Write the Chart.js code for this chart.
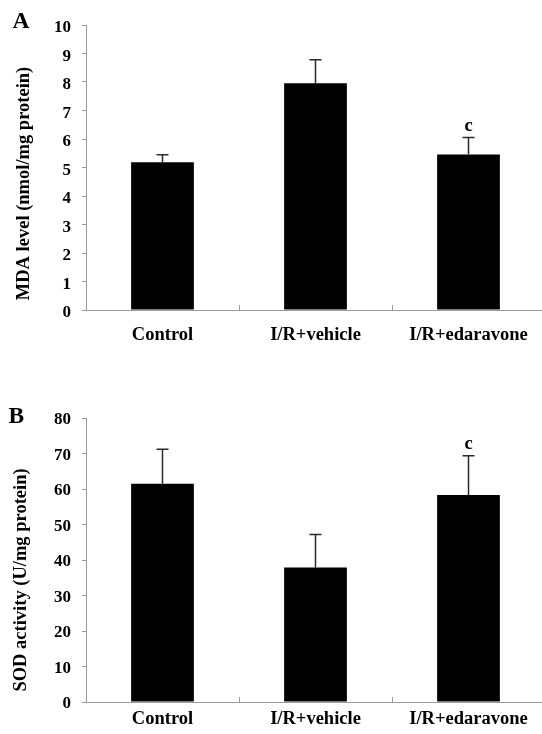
<!DOCTYPE html>
<html>
<head>
<meta charset="utf-8">
<script src="https://cdn.jsdelivr.net/npm/chart.js@4/dist/chart.umd.min.js"></script>
<style>
  html, body { margin: 0; padding: 0; background: #fff; width: 542px; height: 734px; overflow: hidden; }
  canvas { position: absolute; left: 0; }
  #cA { top: 0; }
  #cB { top: 367px; }
</style>
</head>
<body>
<canvas id="cA" width="548" height="355"></canvas>
<canvas id="cB" width="548" height="367"></canvas>
<script>
// ---- data ----
const categories = ['Control', 'I/R+vehicle', 'I/R+edaravone'];
const mdaMean = [5.18, 7.96, 5.46];
const mdaSd   = [0.27, 0.82, 0.59];
const sodMean = [61.5, 37.9, 58.3];
const sodSd   = [9.7, 9.3, 11.1];
const sigMarks = ['', '', 'c'];
const mdaTicks = { min: 0, max: 10, step: 1 };
const sodTicks = { min: 0, max: 80, step: 10 };

const FONT = '"Liberation Serif", "Times New Roman", serif';
const AXIS = '#9a9a9a';

function overlayPlugin(cfg) {
  return {
    id: 'overlay',
    afterDatasetsDraw(chart) {
      const ctx = chart.ctx;
      const xs = chart.scales.x, ys = chart.scales.y;
      const meta = chart.getDatasetMeta(0);
      const ds = chart.data.datasets[0];
      ctx.save();
      // error bars (upper only)
      ctx.strokeStyle = '#2a2a2a';
      ctx.lineWidth = 1.5;
      meta.data.forEach((bar, i) => {
        const v = ds.data[i], sd = cfg.sd[i];
        const x = bar.x;
        const y0 = ys.getPixelForValue(v);
        const y1 = ys.getPixelForValue(v + sd);
        ctx.beginPath();
        ctx.moveTo(x, y0);
        ctx.lineTo(x, y1);
        ctx.moveTo(x - 6, y1);
        ctx.lineTo(x + 6, y1);
        ctx.stroke();
        if (cfg.marks[i]) {
          ctx.fillStyle = '#000';
          ctx.font = 'bold 18.5px ' + FONT;
          ctx.textAlign = 'center';
          ctx.textBaseline = 'alphabetic';
          ctx.fillText(cfg.marks[i], x, y1 - 7);
        }
      });
      // inward category tick marks on the x axis
      ctx.strokeStyle = AXIS;
      ctx.lineWidth = 1;
      const base = chart.chartArea.bottom;
      const step = xs.getPixelForValue(1) - xs.getPixelForValue(0);
      for (let i = 1; i <= categories.length; i++) {
        const xx = xs.getPixelForValue(i - 1) + step / 2;
        ctx.beginPath();
        ctx.moveTo(Math.round(xx) + 0.5, base);
        ctx.lineTo(Math.round(xx) + 0.5, base - 5);
        ctx.stroke();
      }
      // panel letter
      ctx.fillStyle = '#000';
      ctx.font = 'bold 23.5px ' + FONT;
      ctx.textAlign = 'left';
      ctx.textBaseline = 'alphabetic';
      ctx.fillText(cfg.letter, cfg.letterX, cfg.letterY);
      // y-axis title (rotated)
      ctx.translate(cfg.titleX, cfg.titleY);
      ctx.rotate(-Math.PI / 2);
      ctx.font = 'bold 18.5px ' + FONT;
      ctx.textAlign = 'center';
      ctx.fillText(cfg.title, 0, 0);
      ctx.restore();
    }
  };
}

function makeChart(id, mean, sd, ticks, opts) {
  return new Chart(document.getElementById(id), {
    type: 'bar',
    data: {
      labels: categories,
      datasets: [{
        data: mean,
        backgroundColor: '#000',
        borderWidth: 0,
        categoryPercentage: 1.0,
        barPercentage: 0.41
      }]
    },
    options: {
      responsive: false,
      animation: false,
      events: [],
      layout: { padding: { top: opts.padTop, left: 0, right: 3, bottom: 0 } },
      plugins: { legend: { display: false }, tooltip: { enabled: false }, title: { display: false } },
      scales: {
        x: {
          type: 'category',
          offset: true,
          grid: { display: false, drawTicks: false },
          border: { display: true, color: AXIS, width: 1 },
          ticks: {
            color: '#000',
            font: { family: FONT, size: 18.5, weight: 'bold' },
            padding: opts.xPad,
            maxRotation: 0,
            autoSkip: false
          },
          afterFit: (s) => { s.height = opts.xHeight; }
        },
        y: {
          min: ticks.min,
          max: ticks.max,
          grid: { display: true, drawOnChartArea: false, drawTicks: true, tickLength: 4, color: AXIS },
          border: { display: true, color: AXIS, width: 1 },
          ticks: {
            stepSize: ticks.step,
            color: '#000',
            font: { family: FONT, size: 17, weight: 'bold' },
            padding: 11,
            labelOffset: opts.yLabelOffset
          },
          afterFit: (s) => { s.width = 86; }
        }
      }
    },
    plugins: [overlayPlugin({
      sd: sd, marks: sigMarks,
      letter: opts.letter, letterX: opts.letterX, letterY: opts.letterY,
      title: opts.title, titleX: opts.titleX, titleY: opts.titleY
    })]
  });
}

makeChart('cA', mdaMean, mdaSd, mdaTicks, {
  padTop: 25, xHeight: 45, xPad: 14, yLabelOffset: 3,
  letter: 'A', letterX: 12.5, letterY: 27.5,
  title: 'MDA level (nmol/mg protein)', titleX: 29, titleY: 183.5
});
makeChart('cB', sodMean, sodSd, sodTicks, {
  padTop: 51, xHeight: 32, xPad: 6, yLabelOffset: 2,
  letter: 'B', letterX: 8.5, letterY: 55.5,
  title: 'SOD activity (U/mg protein)', titleX: 25.5, titleY: 213
});
</script>
</body>
</html>
